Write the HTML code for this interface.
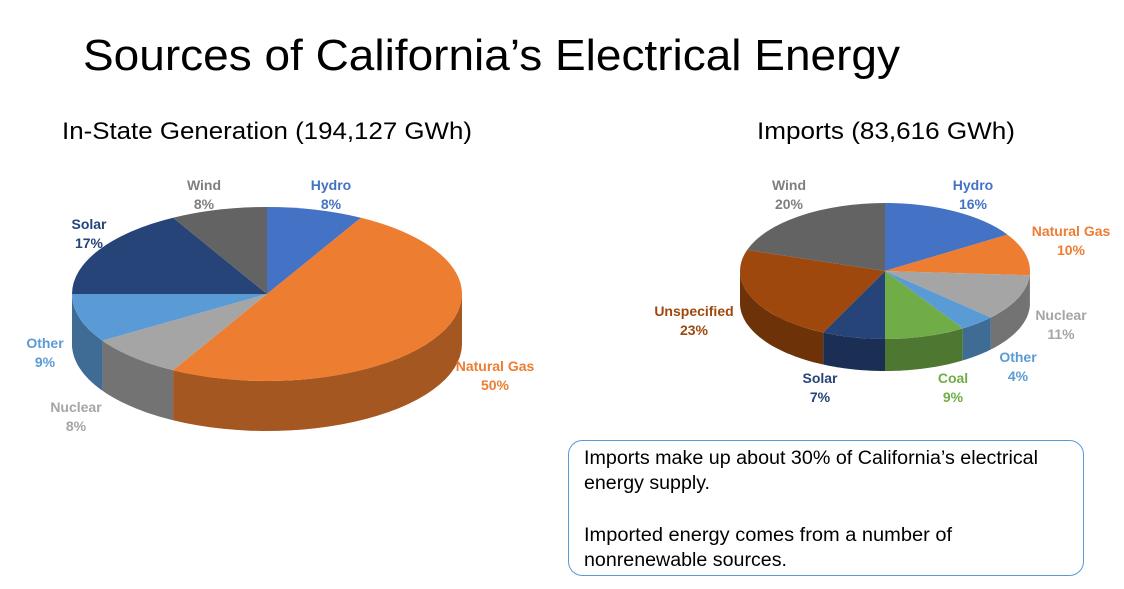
<!DOCTYPE html>
<html><head><meta charset="utf-8"><style>
body{margin:0;background:#fff;}
svg{display:block;font-family:"Liberation Sans",Arial,sans-serif;}
.l{font-weight:bold;font-size:14px;text-anchor:middle;}
</style></head><body>
<svg id="s" width="1124" height="589" viewBox="0 0 1124 589" xmlns="http://www.w3.org/2000/svg">
<text x="83" y="70" font-size="44" fill="#000" textLength="817" lengthAdjust="spacingAndGlyphs">Sources of California’s Electrical Energy</text>
<text x="62" y="139" font-size="24" fill="#000" textLength="410" lengthAdjust="spacingAndGlyphs">In-State Generation (194,127 GWh)</text>
<text x="757" y="139" font-size="24" fill="#000" textLength="258" lengthAdjust="spacingAndGlyphs">Imports (83,616 GWh)</text>
<g id="p1"></g><g id="p2"></g>
<text class="l" fill="#4472C4" x="331" y="190">Hydro</text><text class="l" fill="#4472C4" x="331" y="209">8%</text>
<text class="l" fill="#7F7F7F" x="204" y="190">Wind</text><text class="l" fill="#7F7F7F" x="204" y="209">8%</text>
<text class="l" fill="#264478" x="89" y="229">Solar</text><text class="l" fill="#264478" x="89" y="248">17%</text>
<text class="l" fill="#5B9BD5" x="45" y="348">Other</text><text class="l" fill="#5B9BD5" x="45" y="367">9%</text>
<text class="l" fill="#A5A5A5" x="76" y="412">Nuclear</text><text class="l" fill="#A5A5A5" x="76" y="431">8%</text>
<text class="l" fill="#ED7D31" x="495" y="371">Natural Gas</text><text class="l" fill="#ED7D31" x="495" y="390">50%</text>
<text class="l" fill="#4472C4" x="973" y="190">Hydro</text><text class="l" fill="#4472C4" x="973" y="209">16%</text>
<text class="l" fill="#7F7F7F" x="789" y="190">Wind</text><text class="l" fill="#7F7F7F" x="789" y="209">20%</text>
<text class="l" fill="#ED7D31" x="1071" y="236">Natural Gas</text><text class="l" fill="#ED7D31" x="1071" y="255">10%</text>
<text class="l" fill="#A5A5A5" x="1061" y="320">Nuclear</text><text class="l" fill="#A5A5A5" x="1061" y="339">11%</text>
<text class="l" fill="#5B9BD5" x="1018" y="362">Other</text><text class="l" fill="#5B9BD5" x="1018" y="381">4%</text>
<text class="l" fill="#70AD47" x="953" y="383">Coal</text><text class="l" fill="#70AD47" x="953" y="402">9%</text>
<text class="l" fill="#264478" x="820" y="383">Solar</text><text class="l" fill="#264478" x="820" y="402">7%</text>
<text class="l" fill="#9E480E" x="694" y="316">Unspecified</text><text class="l" fill="#9E480E" x="694" y="335">23%</text>
<rect x="568.5" y="440.5" width="515" height="135" rx="14" fill="#fff" stroke="#5B9BD5" stroke-width="1"/>
<g font-size="19" fill="#000">
<text x="584" y="464" textLength="454" lengthAdjust="spacingAndGlyphs">Imports make up about 30% of California’s electrical</text>
<text x="584" y="489" textLength="126" lengthAdjust="spacingAndGlyphs">energy supply.</text>
<text x="584" y="541" textLength="368" lengthAdjust="spacingAndGlyphs">Imported energy comes from a number of</text>
<text x="584" y="566" textLength="203" lengthAdjust="spacingAndGlyphs">nonrenewable sources.</text>
</g>
</svg>
<script>
function pie(g,cx,cy,rx,ry,d,sl){
 var ns="http://www.w3.org/2000/svg",el=document.getElementById(g);
 function P(t,dy){return [cx+rx*Math.sin(t),cy-ry*Math.cos(t)+(dy||0)];}
 function mk(dd,f,o){var p=document.createElementNS(ns,"path");p.setAttribute("d",dd);p.setAttribute("fill",f);if(o)p.setAttribute("opacity",o);el.appendChild(p);}
 var a=0,arr=[];sl.forEach(function(s){var b=a+s[0]/100*2*Math.PI;arr.push([a,b,s[1]]);a=b;});
 arr.forEach(function(s){
  var a0=Math.max(s[0],Math.PI/2),a1=Math.min(s[1],1.5*Math.PI);
  if(a1<=a0)return;
  var n=30,pts=[],i,t;
  for(i=0;i<=n;i++){t=a0+(a1-a0)*i/n;pts.push(P(t));}
  for(i=n;i>=0;i--){t=a0+(a1-a0)*i/n;pts.push(P(t,d));}
  var dd="M"+pts.map(function(p){return p[0].toFixed(1)+","+p[1].toFixed(1);}).join("L")+"Z";
  mk(dd,s[2]);mk(dd,"#000","0.3");
 });
 arr.forEach(function(s){
  var p0=P(s[0]),p1=P(s[1]),lg=(s[1]-s[0])>Math.PI?1:0;
  mk("M"+cx+","+cy+"L"+p0[0]+","+p0[1]+"A"+rx+","+ry+" 0 "+lg+" 1 "+p1[0]+","+p1[1]+"Z",s[2]);
 });
}
pie("p1",267,294,195,87,50,[[8,"#4472C4"],[50,"#ED7D31"],[8,"#A5A5A5"],[9,"#5B9BD5"],[17,"#264478"],[8,"#636363"]]);
pie("p2",885,271,145,68,32,[[16,"#4472C4"],[10,"#ED7D31"],[11,"#A5A5A5"],[4,"#5B9BD5"],[9,"#70AD47"],[7,"#264478"],[23,"#9E480E"],[20,"#636363"]]);
</script>
</body></html>
